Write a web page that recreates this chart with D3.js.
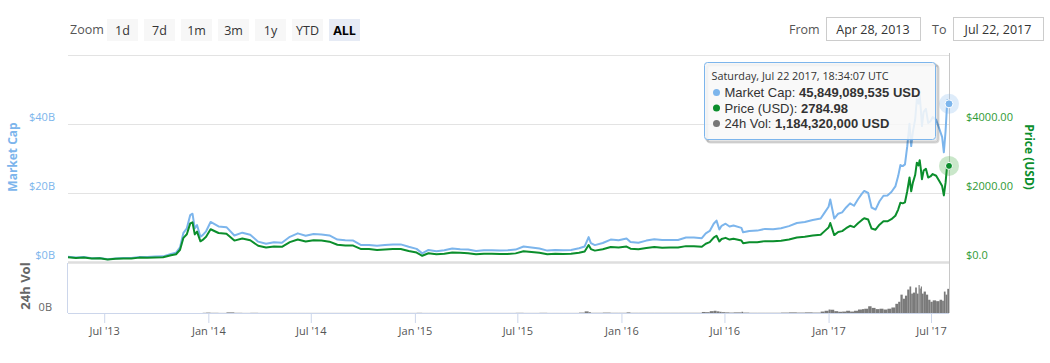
<!DOCTYPE html>
<html>
<head>
<meta charset="utf-8">
<script src="https://cdn.jsdelivr.net/npm/d3@7"></script>
<style>
  html, body { margin: 0; padding: 0; background: #fff; }
  svg { display: block; font-family: "Open Sans", "DejaVu Sans", sans-serif; }
</style>
</head>
<body>
<div id="chart"></div>
<script>
// sampled history, Apr 2013 - Jul 2017
const dates = [
  "2013-04-28","2013-05-12","2013-05-26","2013-06-09","2013-06-23","2013-07-07","2013-07-21","2013-08-04",
  "2013-08-18","2013-09-01","2013-09-15","2013-09-29","2013-10-13","2013-10-27","2013-11-05","2013-11-12",
  "2013-11-18","2013-11-24","2013-11-30","2013-12-04","2013-12-08","2013-12-12","2013-12-18","2013-12-22","2013-12-28",
  "2014-01-05","2014-01-19","2014-02-02","2014-02-16","2014-03-02","2014-03-16","2014-03-30","2014-04-13",
  "2014-04-27","2014-05-11","2014-05-25","2014-06-08","2014-06-22","2014-07-06","2014-07-20","2014-08-03",
  "2014-08-17","2014-08-31","2014-09-14","2014-09-28","2014-10-12","2014-10-26","2014-11-09","2014-11-23",
  "2014-12-07","2014-12-21",
  "2015-01-04","2015-01-14","2015-01-25","2015-02-08","2015-02-22","2015-03-08","2015-03-22","2015-04-05",
  "2015-04-19","2015-05-03","2015-05-17","2015-05-31","2015-06-14","2015-06-28","2015-07-12","2015-07-26",
  "2015-08-09","2015-08-23","2015-09-06","2015-09-20","2015-10-04","2015-10-18","2015-10-28","2015-11-04",
  "2015-11-08","2015-11-15","2015-11-29","2015-12-13","2015-12-27",
  "2016-01-10","2016-01-17","2016-01-31","2016-02-14","2016-02-28","2016-03-13","2016-03-27","2016-04-10",
  "2016-04-24","2016-05-08","2016-05-22","2016-05-29","2016-06-05","2016-06-12","2016-06-17","2016-06-22",
  "2016-06-26","2016-07-03","2016-07-10","2016-07-17","2016-07-31","2016-08-03","2016-08-14","2016-08-28",
  "2016-09-11","2016-09-25","2016-10-09","2016-10-23","2016-11-06","2016-11-20","2016-12-04","2016-12-18","2016-12-25",
  "2017-01-01","2017-01-04","2017-01-11","2017-01-18","2017-01-25","2017-02-01","2017-02-08","2017-02-15",
  "2017-02-22","2017-03-01","2017-03-05","2017-03-12","2017-03-18","2017-03-25","2017-04-01","2017-04-08",
  "2017-04-15","2017-04-22","2017-04-29","2017-05-04","2017-05-08","2017-05-12","2017-05-16","2017-05-20",
  "2017-05-24","2017-05-27","2017-05-30","2017-06-03","2017-06-06","2017-06-09","2017-06-11","2017-06-13",
  "2017-06-15","2017-06-18","2017-06-22","2017-06-26","2017-06-30","2017-07-03","2017-07-07","2017-07-11",
  "2017-07-14","2017-07-16","2017-07-18","2017-07-20","2017-07-22"
];

// USD
const price = [
  135,117,131,100,106,70,91,104,
  100,127,126,133,138,195,225,354,
  700,805,1120,1150,800,880,600,640,730,
  950,840,820,620,680,630,470,420,
  450,440,575,650,595,630,620,590,
  500,480,475,375,375,350,365,380,
  375,320,
  275,180,255,225,240,275,265,255,
  223,240,237,230,233,250,310,290,
  265,225,240,231,238,270,305,490,
  375,330,370,435,420,
  448,385,370,405,433,415,418,420,
  460,458,440,530,575,705,760,595,
  665,700,650,675,625,545,570,575,
  605,600,618,655,710,730,765,790,895,
  1000,1130,780,870,895,980,1050,1010,
  1125,1220,1270,1230,970,935,1080,1180,
  1180,1240,1340,1520,1720,1700,1730,2050,
  2450,2050,2300,2520,2880,2800,2950,2700,
  2400,2650,2700,2450,2480,2550,2500,2330,
  2200,1930,2300,2850,2784.98
];

// billions USD
const marketCap = [
  1.50,1.30,1.46,1.12,1.19,0.79,1.04,1.19,
  1.16,1.48,1.48,1.57,1.64,2.33,2.70,4.25,
  8.45,9.75,13.6,14.0,9.75,10.7,7.3,7.8,8.9,
  11.6,10.3,10.1,7.7,8.5,7.9,5.9,5.3,
  5.7,5.6,7.3,8.3,7.6,8.1,8.0,7.7,
  6.5,6.3,6.2,4.9,4.9,4.7,4.9,5.1,
  5.1,4.4,
  3.8,2.5,3.5,3.1,3.4,3.9,3.7,3.6,
  3.2,3.4,3.4,3.3,3.4,3.6,4.5,4.2,
  3.9,3.3,3.5,3.4,3.5,4.0,4.5,7.2,
  5.5,4.9,5.5,6.5,6.3,
  6.8,5.8,5.6,6.2,6.6,6.4,6.4,6.4,
  7.1,7.1,6.9,8.3,9.0,11.1,12.0,9.4,
  10.5,11.1,10.3,10.6,9.9,8.6,9.0,9.1,
  9.6,9.5,9.8,10.4,11.3,11.6,12.2,12.6,14.3,
  16.0,18.1,12.6,14.0,14.4,15.8,17.0,16.3,
  18.2,19.8,20.6,20.0,15.8,15.2,17.6,19.2,
  19.3,20.3,21.9,24.9,28.1,27.8,28.3,33.5,
  40.1,33.6,37.7,41.3,47.2,45.9,48.4,44.3,
  39.4,43.5,44.4,40.3,40.8,42.0,41.2,38.4,
  36.2,31.8,37.9,46.9,45.849089535
];

// 24h volume, billions USD
const volume = [
  0,0,0,0,0,0,0,0,
  0,0,0,0,0,0,0,0,
  0,0,0,0,0,0,0,0,0.01,
  0.02,0.01,0.005,0.03,0.01,0.005,0.01,0.005,
  0.005,0.005,0.005,0.005,0.005,0.005,0.005,0.005,
  0.005,0.005,0.005,0.005,0.005,0.005,0.005,0.005,
  0.005,0.005,
  0.005,0.01,0.005,0.005,0.005,0.005,0.005,0.005,
  0.005,0.005,0.005,0.005,0.005,0.005,0.01,0.005,
  0.005,0.01,0.005,0.005,0.005,0.005,0.02,0.08,
  0.04,0.01,0.01,0.02,0.01,
  0.01,0.03,0.01,0.01,0.01,0.01,0.01,0.01,
  0.01,0.01,0.01,0.05,0.04,0.09,0.11,0.08,
  0.06,0.04,0.03,0.02,0.03,0.06,0.02,0.01,
  0.01,0.01,0.01,0.02,0.03,0.02,0.03,0.02,0.07,
  0.11,0.17,0.16,0.09,0.06,0.07,0.11,0.07,
  0.11,0.17,0.19,0.21,0.33,0.25,0.19,0.21,
  0.17,0.21,0.27,0.45,0.55,0.90,0.70,0.85,
  1.15,1.30,0.95,1.00,1.25,0.95,1.37,1.20,
  1.30,0.95,1.05,0.90,0.65,0.55,0.62,0.58,
  0.65,0.60,1.05,0.90,1.18432
];

const yMcTicks = [0, 20, 40, 60];
const yPriceTicks = [0, 2000, 4000, 6000];
const xTickDates = ["2013-07-01","2014-01-01","2014-07-01","2015-01-01","2015-07-01",
                    "2016-01-01","2016-07-01","2017-01-01","2017-07-01"];
const zoomButtons = ["1d","7d","1m","3m","1y","YTD","ALL"];

const width = 1050, height = 363;
const blue = "#7cb5ec", green = "#0b8e2c", greenText = "#2f9a34", volGray = "#7a7a7a";

const parse = d3.timeParse("%Y-%m-%d");
const rows = dates.map((d, i) => ({
  date: parse(d), price: price[i], mc: marketCap[i], vol: volume[i]
}));

const svg = d3.select("#chart").append("svg")
  .attr("width", width)
  .attr("height", height);

// x: time, the last weeks are stretched a little like the ordinal axis in the original
const x = d3.scaleTime()
  .domain([parse("2013-04-28"), parse("2017-07-01"), parse("2017-07-22")])
  .range([68, 931, 949]);

const yMc = d3.scaleLinear().domain([0, 60]).range([262, 55]);
const yPrice = d3.scaleLinear().domain([0, 6000]).range([262, 55]);
const yVol = d3.scaleLinear().domain([0, 2.5]).range([313, 262]);

// ---- range selector ----
const toolbar = svg.append("g").attr("font-size", 12.5).attr("fill", "#333");
toolbar.append("text").attr("x", 70).attr("y", 34).text("Zoom").attr("fill", "#555");
const btn = toolbar.selectAll(".btn").data(zoomButtons).enter().append("g")
  .attr("transform", (d, i) => `translate(${107 + i * 37},19)`);
btn.append("rect")
  .attr("width", 31).attr("height", 22)
  .attr("fill", d => d === "ALL" ? "#e6ebf5" : "#f7f7f7");
btn.append("text")
  .attr("x", 15.5).attr("y", 15.5)
  .attr("text-anchor", "middle")
  .attr("font-weight", d => d === "ALL" ? "bold" : "normal")
  .attr("fill", d => d === "ALL" ? "#000" : "#333")
  .text(d => d);

toolbar.append("text").attr("x", 789).attr("y", 34).attr("fill", "#555").text("From");
toolbar.append("rect").attr("x", 826.5).attr("y", 17.5).attr("width", 94).attr("height", 23)
  .attr("fill", "#fff").attr("stroke", "#ccc");
toolbar.append("text").attr("x", 873).attr("y", 34).attr("text-anchor", "middle").text("Apr 28, 2013");
toolbar.append("text").attr("x", 932).attr("y", 34).attr("fill", "#555").text("To");
toolbar.append("rect").attr("x", 953.5).attr("y", 17.5).attr("width", 90).attr("height", 23)
  .attr("fill", "#fff").attr("stroke", "#ccc");
toolbar.append("text").attr("x", 998).attr("y", 34).attr("text-anchor", "middle").text("Jul 22, 2017");

// ---- grid ----
svg.append("g").selectAll("line").data(yMcTicks).enter().append("line")
  .attr("x1", 68).attr("x2", 949)
  .attr("y1", d => Math.round(yMc(d)) + 0.5).attr("y2", d => Math.round(yMc(d)) + 0.5)
  .attr("stroke", d => d === 0 ? "#dedede" : "#e3e3e3")
  .attr("stroke-width", d => d === 0 ? 2.5 : 1);

// left axis labels
svg.append("g").attr("font-size", 11).attr("fill", blue).attr("text-anchor", "end")
  .selectAll("text").data(yMcTicks.slice(0, 3)).enter().append("text")
  .attr("x", 55).attr("y", d => yMc(d) - 3)
  .text(d => `$${d}B`);

// right axis labels
svg.append("g").attr("font-size", 11).attr("fill", greenText)
  .selectAll("text").data(yPriceTicks.slice(0, 3)).enter().append("text")
  .attr("x", 966).attr("y", d => yPrice(d) - 3)
  .text(d => d === 0 ? "$0.0" : `$${d3.format(".2f")(d)}`);

svg.append("text")
  .attr("transform", "translate(17,157) rotate(-90)")
  .attr("text-anchor", "middle").attr("font-size", 12).attr("font-weight", "bold")
  .attr("fill", blue).text("Market Cap");

svg.append("text")
  .attr("transform", "translate(1025,157) rotate(90)")
  .attr("text-anchor", "middle").attr("font-size", 12).attr("font-weight", "bold")
  .attr("fill", green).text("Price (USD)");

svg.append("text")
  .attr("transform", "translate(30,286) rotate(-90)")
  .attr("text-anchor", "middle").attr("font-size", 13).attr("font-weight", "bold")
  .attr("fill", "#666").text("24h Vol");

svg.append("text").attr("x", 52).attr("y", 311).attr("text-anchor", "end")
  .attr("font-size", 11).attr("fill", "#666").text("0B");

// ---- volume bars ----
svg.append("g").selectAll("rect").data(rows).enter().append("rect")
  .attr("x", (d, i) => i === 0 ? x(d.date) : x(rows[i - 1].date))
  .attr("width", (d, i) => i === 0 ? 0.5 : Math.max(0.6, x(d.date) - x(rows[i - 1].date)))
  .attr("y", d => yVol(d.vol))
  .attr("height", d => yVol(0) - yVol(d.vol))
  .attr("fill", volGray);

// volume pane borders
svg.append("line").attr("x1", 67.5).attr("x2", 67.5).attr("y1", 263).attr("y2", 313)
  .attr("stroke", "#ccd6eb");

// ---- x axis ----
const xAxis = d3.axisBottom(x)
  .tickValues(xTickDates.map(parse))
  .tickFormat(d3.timeFormat("%b '%y"))
  .tickSize(10)
  .tickPadding(4);
const gx = svg.append("g").attr("transform", "translate(0,313)").call(xAxis);
gx.select(".domain").attr("stroke", "#ccd6eb").attr("d", "M68,0.5H949");
gx.selectAll(".tick line").attr("stroke", "#ccd6eb");
gx.selectAll(".tick text").attr("fill", "#555").attr("font-size", 11)
  .attr("font-family", "\"Open Sans\", \"DejaVu Sans\", sans-serif");

// ---- lines ----
const mcLine = d3.line().x(d => x(d.date)).y(d => yMc(d.mc));
const priceLine = d3.line().x(d => x(d.date)).y(d => yPrice(d.price));

svg.append("path").datum(rows)
  .attr("d", mcLine).attr("fill", "none")
  .attr("stroke", blue).attr("stroke-width", 2).attr("stroke-linejoin", "round");

svg.append("path").datum(rows)
  .attr("d", priceLine).attr("fill", "none")
  .attr("stroke", green).attr("stroke-width", 2).attr("stroke-linejoin", "round");

// ---- crosshair and hover markers ----
const last = rows[rows.length - 1];
svg.append("line")
  .attr("x1", Math.round(x(last.date)) + 0.5).attr("x2", Math.round(x(last.date)) + 0.5)
  .attr("y1", 53).attr("y2", 313).attr("stroke", "#c8c8c8");

svg.append("circle").attr("cx", x(last.date)).attr("cy", yMc(last.mc)).attr("r", 10)
  .attr("fill", blue).attr("opacity", 0.25);
svg.append("circle").attr("cx", x(last.date)).attr("cy", yMc(last.mc)).attr("r", 4)
  .attr("fill", blue).attr("stroke", "#fff").attr("stroke-width", 1);
svg.append("circle").attr("cx", x(last.date)).attr("cy", yPrice(last.price)).attr("r", 10)
  .attr("fill", "#2ca02c").attr("opacity", 0.25);
svg.append("circle").attr("cx", x(last.date)).attr("cy", yPrice(last.price)).attr("r", 3.5)
  .attr("fill", green).attr("stroke", "#fff").attr("stroke-width", 1);

// ---- tooltip ----
const tip = svg.append("g").attr("transform", "translate(704.5,62.5)");
[3, 2, 1].forEach(o => {
  tip.append("rect").attr("x", o).attr("y", o).attr("width", 231).attr("height", 77).attr("rx", 3)
    .attr("fill", "none").attr("stroke", "#000").attr("stroke-opacity", 0.05 * o).attr("stroke-width", 2);
});
tip.append("rect").attr("width", 231).attr("height", 77).attr("rx", 3)
  .attr("fill", "rgba(248,248,248,0.86)").attr("stroke", blue);
tip.append("text").attr("x", 7).attr("y", 17).attr("font-size", 10.8).attr("fill", "#333")
  .text("Saturday, Jul 22 2017, 18:34:07 UTC");

const fmtInt = d3.format(",");
const tipRows = [
  { color: blue, label: "Market Cap: ", value: fmtInt(Math.round(last.mc * 1e9)) + " USD" },
  { color: green, label: "Price (USD): ", value: String(last.price) },
  { color: "#777", label: "24h Vol: ", value: fmtInt(Math.round(last.vol * 1e9)) + " USD" }
];
tipRows.forEach((r, i) => {
  const yy = 34.5 + i * 15.5;
  tip.append("circle").attr("cx", 12).attr("cy", yy - 4.5).attr("r", 3.5).attr("fill", r.color);
  const t = tip.append("text").attr("x", 20).attr("y", yy)
    .attr("font-family", "\"Liberation Sans\", Arial, sans-serif")
    .attr("font-size", 13).attr("fill", "#333");
  t.append("tspan").text(r.label);
  t.append("tspan").attr("font-weight", "bold").text(r.value);
});
</script>
</body>
</html>
